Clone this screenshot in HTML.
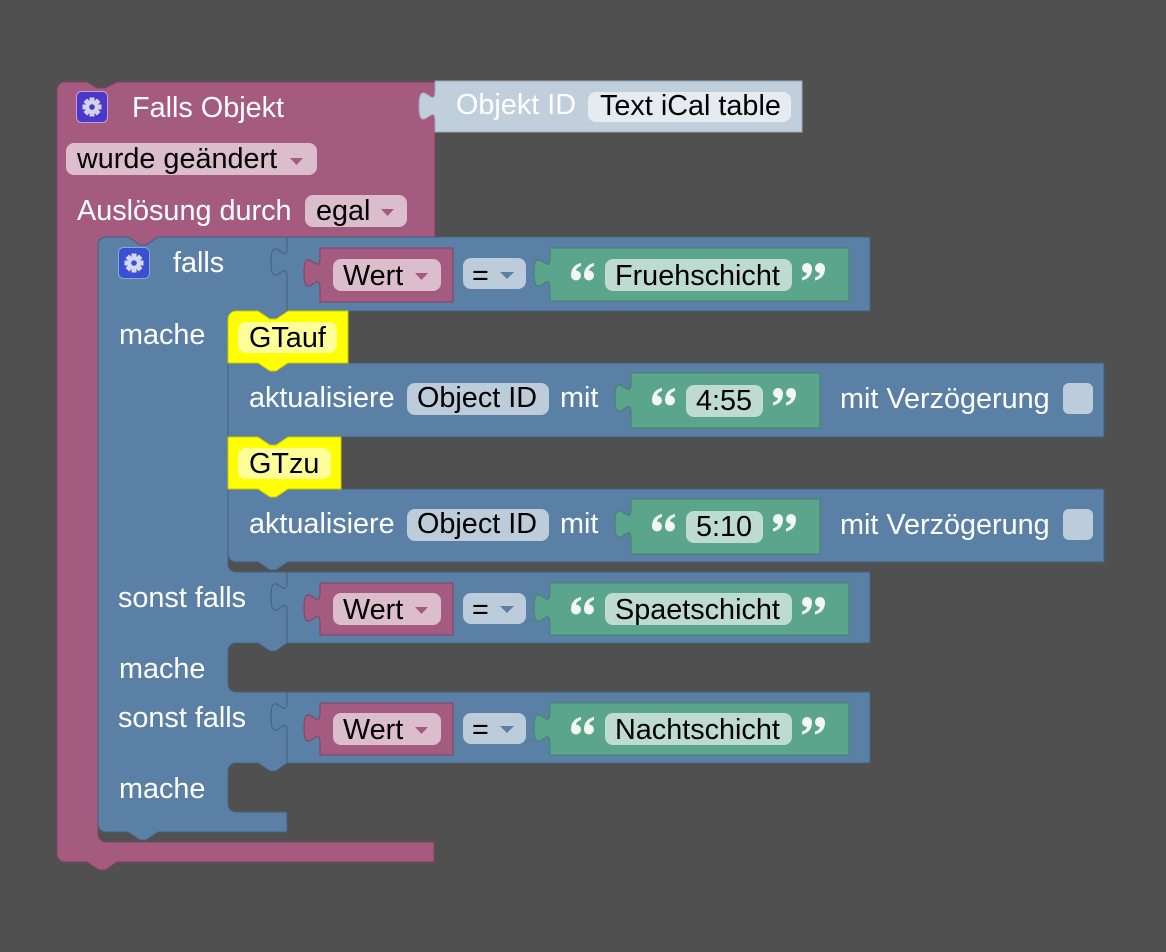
<!DOCTYPE html>
<html><head><meta charset="utf-8"><style>
html,body{margin:0;padding:0;background:#505050;}
svg{display:block;}
text{font-family:"Liberation Sans",Arial,sans-serif;font-size:28.8px;}
.w{fill:#fff;}
.b{fill:#000;}
</style></head><body>
<svg width="1166" height="952" viewBox="0 0 1166 952" xmlns="http://www.w3.org/2000/svg">
<defs>
<path id="q6" d="M5,7.5 A5,5 0 1 1 0,12.5 C0,5.5 3.5,1.5 10,0 L10,3 C6.8,4 5.3,5.5 5,7.5 Z"/>
<g id="qo" fill="#f2f7f4"><use href="#q6"/><use href="#q6" x="13"/></g>
<g id="qc" fill="#f2f7f4"><g transform="rotate(180 11.5 8.75)"><use href="#q6"/><use href="#q6" x="13"/></g></g>
</defs>
<rect width="1166" height="952" fill="#505050"/>

<!-- Main pink block -->
<path d="M57,90 A8,8 0 0 1 65,82 H87 L97,88 H105 L117,82 H435 V237 H158 L146,245 H140 L128,237 H106 A8,8 0 0 0 98,245 V834 A8,8 0 0 0 106,842 H434 V862 H117 L105,870 H99 L87,862 H65 A8,8 0 0 1 57,854 Z" fill="#a55b80" stroke="#7f4262" stroke-width="1"/>

<!-- Objekt ID block -->
<path d="M435,81 H802 V132 H435 V121 C435,101 419,137 419,106 C419,75 435,111 435,91 Z" fill="#c1cfdd" stroke="#9aa8b6" stroke-width="1"/>
<text x="456" y="114" class="w">Objekt ID</text>
<rect x="588" y="92" width="203" height="30" rx="8" fill="#e6ebf1"/>
<text x="600" y="115" class="b">Text iCal table</text>

<!-- pink gear -->
<g transform="translate(92,107)">
 <rect x="-15.5" y="-15.5" width="31" height="31" rx="5" fill="#4a37cc" stroke="#c9a0c0"/>
 <g fill="#d6d2ec">
  <circle r="6.5"/>
  <rect x="-2.5" y="-9.5" width="5" height="19"/>
  <rect x="-2.5" y="-9.5" width="5" height="19" transform="rotate(45)"/>
  <rect x="-2.5" y="-9.5" width="5" height="19" transform="rotate(90)"/>
  <rect x="-2.5" y="-9.5" width="5" height="19" transform="rotate(135)"/>
 </g>
 <circle r="2.8" fill="#4a37cc"/>
</g>
<text x="132" y="117" class="w">Falls Objekt</text>
<rect x="66" y="143" width="251" height="32" rx="8" fill="#dbbdcc"/>
<text x="77" y="168" class="b">wurde geändert</text>
<polygon points="290,158 303,158 296.5,165" fill="#a55b80"/>
<text x="77" y="220" class="w">Auslösung durch</text>
<rect x="305" y="195" width="102" height="32" rx="8" fill="#dbbdcc"/>
<text x="316" y="220" class="b">egal</text>
<polygon points="381,209 394,209 387.5,216" fill="#a55b80"/>

<!-- Blue if block -->
<path d="M98,245 A8,8 0 0 1 106,237 H128 L140,245 H146 L158,237 H287 V311 L276,319 H270 L258,311 H236 A8,8 0 0 0 228,319 V564 A8,8 0 0 0 236,572 H287 V643 L276,651 H270 L258,643 H236 A8,8 0 0 0 228,651 V684 A8,8 0 0 0 236,692 H287 V763 L276,771 H270 L258,763 H236 A8,8 0 0 0 228,771 V804 A8,8 0 0 0 236,812 H287 V832 H158 L146,840 H140 L128,832 H106 A8,8 0 0 1 98,824 Z" fill="#5b80a5" stroke="#44607d" stroke-width="1"/>
<g transform="translate(134,263)">
 <rect x="-15.5" y="-15.5" width="31" height="31" rx="5" fill="#3a4fd4" stroke="#8da6c9"/>
 <g fill="#d6d8ee">
  <circle r="6.5"/>
  <rect x="-2.5" y="-9.5" width="5" height="19"/>
  <rect x="-2.5" y="-9.5" width="5" height="19" transform="rotate(45)"/>
  <rect x="-2.5" y="-9.5" width="5" height="19" transform="rotate(90)"/>
  <rect x="-2.5" y="-9.5" width="5" height="19" transform="rotate(135)"/>
 </g>
 <circle r="2.8" fill="#3a4fd4"/>
</g>
<text x="173" y="272" class="w">falls</text>
<text x="119" y="344" class="w">mache</text>
<text x="118" y="607" class="w">sonst falls</text>
<text x="119" y="678" class="w">mache</text>
<text x="118" y="727" class="w">sonst falls</text>
<text x="119" y="798" class="w">mache</text>

<!-- Compare rows -->
<g transform="translate(0,237)">
 <path d="M287,0 H870 V74 H287 V40 C287,20 271,56 271,25 C271,-6 287,30 287,10 Z" fill="#5b80a5" stroke="#44607d"/>
 <path d="M320,11 H453 V65 H320 V51 C320,31 304,67 304,36 C304,5 320,41 320,21 Z" fill="#a55b80" stroke="#7f4262"/>
 <rect x="333" y="22" width="108" height="32" rx="8" fill="#dbbdcc"/>
 <text x="343" y="48" class="b">Wert</text>
 <polygon points="415,36 428,36 421.5,43" fill="#a55b80"/>
 <rect x="463" y="21" width="63" height="31" rx="8" fill="#bdccdb"/>
 <text x="472" y="48" class="b">=</text>
 <polygon points="500,35 514,35 507,42" fill="#5b80a5"/>
 <path d="M550,11 H849 V64 H550 V51 C550,31 534,67 534,36 C534,5 550,41 550,21 Z" fill="#5ba58c" stroke="#44806b"/>
 <use href="#qo" x="571" y="26"/>
 <rect x="605" y="22" width="187" height="32" rx="8" fill="#bddbd1"/>
 <text x="615" y="48" class="b">Fruehschicht</text>
 <use href="#qc" x="802" y="26"/>
</g>
<g transform="translate(0,572)">
 <path d="M287,0 H870 V71 H287 V40 C287,20 271,56 271,25 C271,-6 287,30 287,10 Z" fill="#5b80a5" stroke="#44607d"/>
 <path d="M320,11 H453 V63 H320 V51 C320,31 304,67 304,36 C304,5 320,41 320,21 Z" fill="#a55b80" stroke="#7f4262"/>
 <rect x="333" y="21" width="108" height="32" rx="8" fill="#dbbdcc"/>
 <text x="343" y="47" class="b">Wert</text>
 <polygon points="415,35 428,35 421.5,42" fill="#a55b80"/>
 <rect x="463" y="21" width="63" height="31" rx="8" fill="#bdccdb"/>
 <text x="472" y="47" class="b">=</text>
 <polygon points="500,34 514,34 507,41" fill="#5b80a5"/>
 <path d="M550,11 H849 V63 H550 V51 C550,31 534,67 534,36 C534,5 550,41 550,21 Z" fill="#5ba58c" stroke="#44806b"/>
 <use href="#qo" x="571" y="25"/>
 <rect x="605" y="21" width="187" height="32" rx="8" fill="#bddbd1"/>
 <text x="615" y="47" class="b">Spaetschicht</text>
 <use href="#qc" x="802" y="25"/>
</g>
<g transform="translate(0,692)">
 <path d="M287,0 H870 V71 H287 V40 C287,20 271,56 271,25 C271,-6 287,30 287,10 Z" fill="#5b80a5" stroke="#44607d"/>
 <path d="M320,11 H453 V63 H320 V51 C320,31 304,67 304,36 C304,5 320,41 320,21 Z" fill="#a55b80" stroke="#7f4262"/>
 <rect x="333" y="21" width="108" height="32" rx="8" fill="#dbbdcc"/>
 <text x="343" y="47" class="b">Wert</text>
 <polygon points="415,35 428,35 421.5,42" fill="#a55b80"/>
 <rect x="463" y="21" width="63" height="31" rx="8" fill="#bdccdb"/>
 <text x="472" y="47" class="b">=</text>
 <polygon points="500,34 514,34 507,41" fill="#5b80a5"/>
 <path d="M550,11 H849 V63 H550 V51 C550,31 534,67 534,36 C534,5 550,41 550,21 Z" fill="#5ba58c" stroke="#44806b"/>
 <use href="#qo" x="571" y="25"/>
 <rect x="605" y="21" width="187" height="32" rx="8" fill="#bddbd1"/>
 <text x="615" y="47" class="b">Nachtschicht</text>
 <use href="#qc" x="802" y="25"/>
</g>

<!-- aktualisiere blocks -->
<g transform="translate(0,363)">
 <path d="M228,0 H258 L270,8 H276 L288,0 H1104 V74 H288 L276,82 H270 L258,74 H228 Z" fill="#5b80a5" stroke="#44607d"/>
 <text x="249" y="44" class="w">aktualisiere</text>
 <rect x="407" y="20" width="142" height="32" rx="8" fill="#bdccdb"/>
 <text x="417" y="44" class="b">Object ID</text>
 <text x="560" y="44" class="w">mit</text>
 <path d="M631,10 H820 V65 H631 V50 C631,30 615,66 615,35 C615,4 631,40 631,20 Z" fill="#5ba58c" stroke="#44806b"/>
 <use href="#qo" x="652" y="25"/>
 <rect x="686" y="22" width="77" height="32" rx="8" fill="#bddbd1"/>
 <text x="696" y="47" class="b">4:55</text>
 <use href="#qc" x="773" y="25"/>
 <text x="840" y="45" class="w">mit Verzögerung</text>
 <rect x="1063" y="20" width="30" height="31" rx="6" fill="#bdccdb"/>
</g>
<g transform="translate(0,489)">
 <path d="M228,0 H258 L270,8 H276 L288,0 H1104 V73 H288 L276,81 H270 L258,73 H236 A8,8 0 0 1 228,65 Z" fill="#5b80a5" stroke="#44607d"/>
 <text x="249" y="44" class="w">aktualisiere</text>
 <rect x="407" y="20" width="142" height="32" rx="8" fill="#bdccdb"/>
 <text x="417" y="44" class="b">Object ID</text>
 <text x="560" y="44" class="w">mit</text>
 <path d="M631,10 H820 V65 H631 V50 C631,30 615,66 615,35 C615,4 631,40 631,20 Z" fill="#5ba58c" stroke="#44806b"/>
 <use href="#qo" x="652" y="25"/>
 <rect x="686" y="22" width="77" height="32" rx="8" fill="#bddbd1"/>
 <text x="696" y="47" class="b">5:10</text>
 <use href="#qc" x="773" y="25"/>
 <text x="840" y="45" class="w">mit Verzögerung</text>
 <rect x="1063" y="20" width="30" height="31" rx="6" fill="#bdccdb"/>
</g>

<!-- yellow comment blocks -->
<path d="M228,319 A8,8 0 0 1 236,311 H258 L270,319 H276 L288,311 H348 V363 H288 L276,371 H270 L258,363 H228 Z" fill="#ffff00" stroke="#c9c900"/>
<rect x="238" y="322" width="99" height="31" rx="8" fill="#ffff99"/>
<text x="249" y="347" class="b">GTauf</text>
<path d="M228,437 H258 L270,445 H276 L288,437 H341 V489 H288 L276,497 H270 L258,489 H228 Z" fill="#ffff00" stroke="#c9c900"/>
<rect x="238" y="448" width="93" height="31" rx="8" fill="#ffff99"/>
<text x="249" y="473" class="b">GTzu</text>
</svg>
</body></html>
